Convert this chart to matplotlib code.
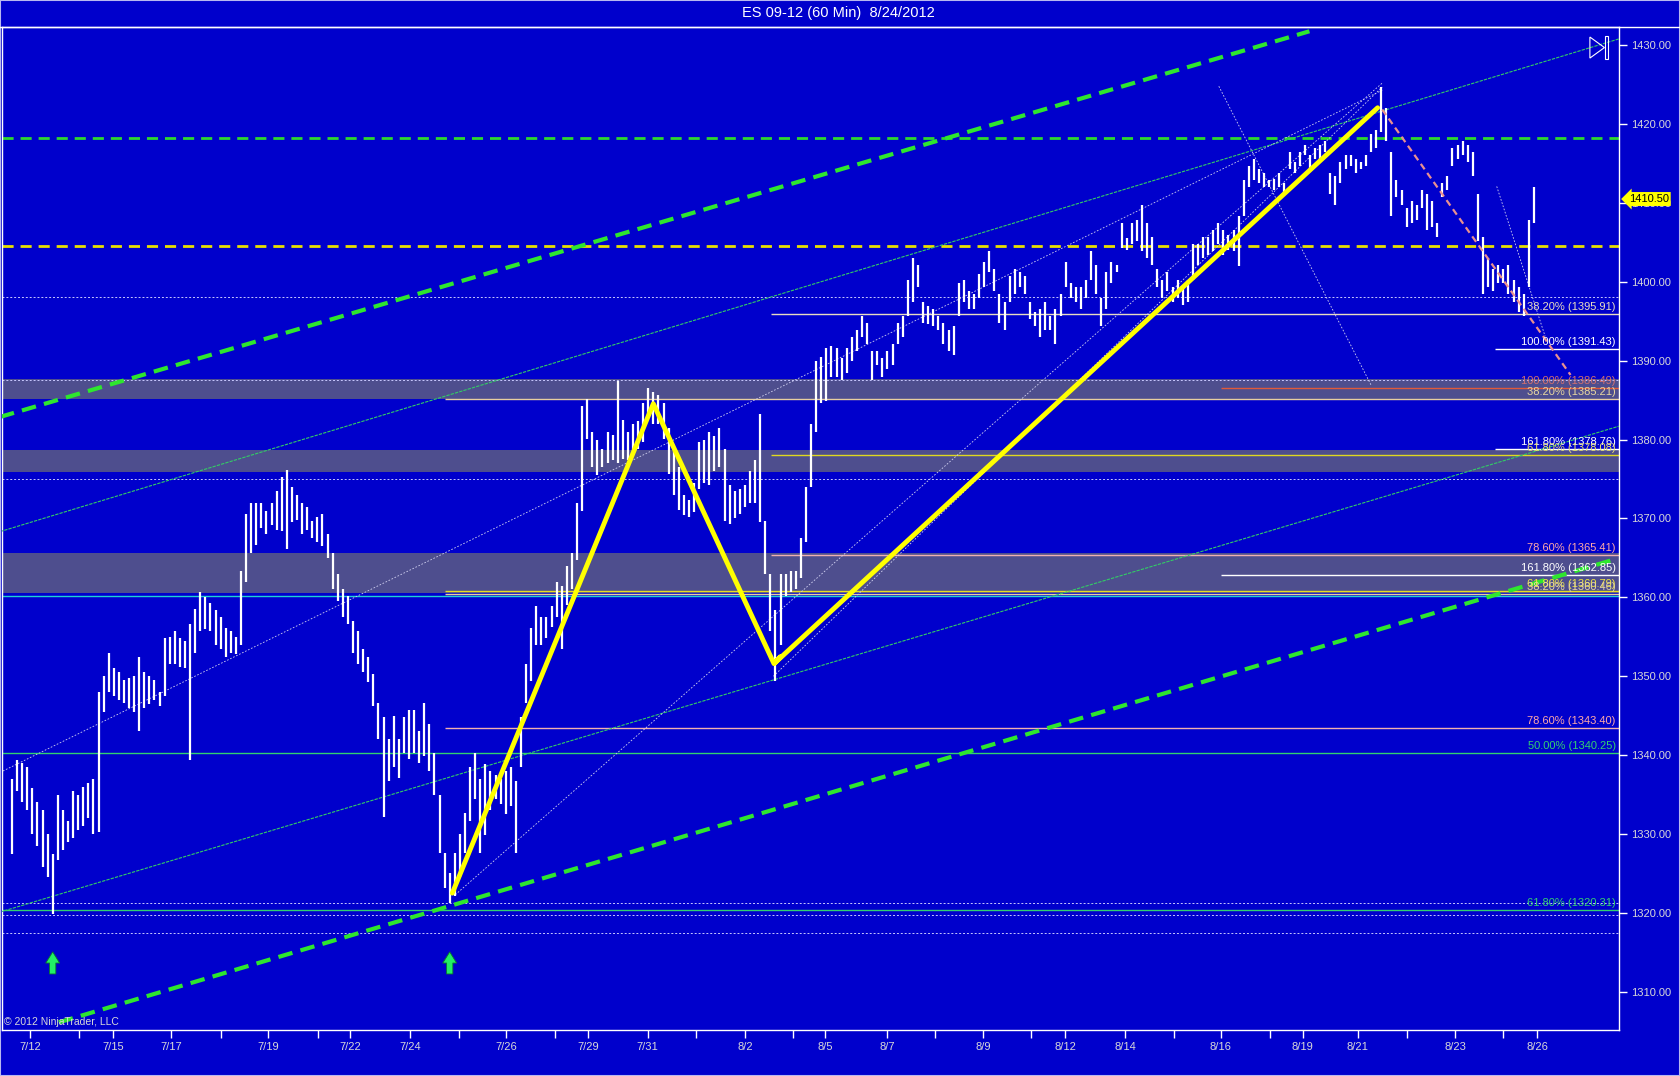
import matplotlib
matplotlib.use('Agg')
import matplotlib.pyplot as plt
from matplotlib.patches import Polygon, Rectangle
from matplotlib.transforms import blended_transform_factory

plt.rcParams['font.family'] = ['Liberation Sans', 'DejaVu Sans']

# ES 09-12, one bar every ~2.4 trading hours, 12 Jul - 24 Aug 2012
bar_high = [
    1337.0, 1339.4, 1339.0, 1338.5, 1335.8, 1334.0, 1333.1, 1330.0, 1327.5, 1334.9,
    1333.0, 1331.7, 1335.5, 1335.0, 1336.0, 1336.5, 1337.0, 1348.0, 1350.0, 1353.0,
    1351.0, 1350.5, 1349.5, 1349.8, 1350.0, 1352.5, 1350.5, 1350.0, 1349.5, 1348.0,
    1354.8, 1355.0, 1355.7, 1354.8, 1354.5, 1356.6, 1358.5, 1360.7, 1360.0, 1359.3,
    1358.4, 1357.5, 1356.1, 1355.7, 1355.0, 1363.4, 1370.6, 1372.0, 1372.0, 1372.0,
    1371.0, 1372.0, 1373.5, 1375.2, 1376.1, 1374.0, 1373.0, 1372.0, 1371.5, 1369.7,
    1370.2, 1370.6, 1368.0, 1365.6, 1363.0, 1361.1, 1360.2, 1357.0, 1355.7, 1353.5,
    1352.5, 1350.3, 1346.6, 1344.8, 1342.1, 1345.0, 1342.1, 1344.8, 1345.7, 1345.7,
    1343.0, 1346.6, 1344.0, 1340.3, 1334.9, 1327.6, 1325.0, 1327.6, 1330.0, 1332.6,
    1338.5, 1340.3, 1337.0, 1338.9, 1338.0, 1337.5, 1337.0, 1338.0, 1338.5, 1336.7,
    1344.8, 1351.6, 1356.1, 1358.9, 1357.5, 1357.5, 1358.9, 1362.0, 1361.5, 1364.0,
    1365.6, 1372.0, 1384.2, 1385.1, 1381.0, 1380.0, 1378.8, 1381.0, 1380.6, 1387.4,
    1382.5, 1381.0, 1382.0, 1382.3, 1384.7, 1386.5, 1386.0, 1385.6, 1384.7, 1381.5,
    1378.5, 1376.5, 1373.0, 1372.4, 1374.5, 1379.7, 1380.0, 1381.0, 1380.5, 1381.5,
    1378.8, 1374.2, 1373.5, 1373.8, 1374.2, 1376.0, 1377.4, 1383.3, 1369.7, 1362.9,
    1358.4, 1362.9, 1363.0, 1363.4, 1363.4, 1367.5, 1374.0, 1382.0, 1390.0, 1390.5,
    1391.6, 1391.9, 1391.6, 1390.3, 1391.6, 1393.0, 1393.9, 1395.7, 1394.8, 1391.2,
    1391.2, 1390.3, 1391.2, 1392.1, 1394.8, 1395.7, 1400.2, 1403.0, 1402.1, 1397.5,
    1397.0, 1396.6, 1395.7, 1394.8, 1393.9, 1394.4, 1399.8, 1400.2, 1398.9, 1398.4,
    1401.0, 1402.5, 1403.9, 1401.6, 1398.4, 1397.5, 1400.7, 1401.6, 1401.2, 1400.7,
    1397.5, 1396.2, 1396.6, 1397.5, 1395.7, 1396.6, 1398.4, 1402.5, 1399.8, 1399.3,
    1399.3, 1400.2, 1403.9, 1402.1, 1398.0, 1401.2, 1402.5, 1402.1, 1407.5, 1405.5,
    1407.5, 1407.9, 1409.7, 1407.5, 1405.7, 1401.6, 1400.2, 1401.2, 1399.3, 1400.2,
    1399.3, 1400.2, 1404.8, 1404.8, 1405.7, 1405.7, 1406.6, 1407.5, 1406.6, 1406.0,
    1406.6, 1408.4, 1412.9, 1414.7, 1415.6, 1414.3, 1413.8, 1412.9, 1413.0, 1413.8,
    1412.5, 1416.5, 1415.2, 1416.5, 1417.4, 1416.1, 1417.0, 1417.4, 1417.9, 1413.8,
    1413.4, 1415.2, 1416.1, 1416.1, 1415.6, 1415.2, 1416.1, 1418.8, 1419.3, 1424.7,
    1422.0, 1416.5, 1412.9, 1411.6, 1409.3, 1410.2, 1409.7, 1411.6, 1411.1, 1410.2,
    1407.5, 1412.5, 1413.4, 1417.0, 1417.4, 1417.9, 1417.4, 1416.5, 1411.1, 1405.7,
    1403.0, 1401.6, 1402.1, 1401.6, 1402.1, 1400.2, 1399.3, 1398.4, 1407.9, 1412.0,
]
bar_low = [
    1327.5, 1335.5, 1334.0, 1333.0, 1330.0, 1328.5, 1325.8, 1324.5, 1319.9, 1326.7,
    1328.0, 1329.0, 1329.5, 1330.5, 1331.0, 1332.0, 1330.0, 1330.3, 1345.5, 1348.0,
    1347.5, 1347.0, 1346.6, 1346.0, 1345.5, 1343.0, 1346.0, 1346.5, 1347.0, 1346.2,
    1347.5, 1351.5, 1351.6, 1351.2, 1351.0, 1339.4, 1353.0, 1355.7, 1356.0, 1355.7,
    1353.9, 1353.5, 1352.5, 1353.0, 1352.8, 1353.9, 1362.0, 1365.6, 1366.6, 1368.8,
    1368.0, 1369.2, 1368.5, 1368.4, 1366.1, 1369.5, 1369.8, 1368.0, 1368.5, 1367.5,
    1367.0, 1366.5, 1365.0, 1361.1, 1359.5, 1357.5, 1356.6, 1353.0, 1351.6, 1350.5,
    1349.3, 1346.2, 1342.1, 1332.2, 1336.7, 1338.5, 1337.1, 1340.3, 1339.5, 1340.3,
    1339.0, 1339.9, 1338.0, 1334.9, 1327.6, 1323.1, 1321.3, 1322.2, 1324.5, 1327.6,
    1331.7, 1334.4, 1327.6, 1329.9, 1333.0, 1334.4, 1333.8, 1332.5, 1333.5, 1327.6,
    1338.5, 1346.6, 1349.4, 1353.9, 1354.0, 1354.8, 1356.2, 1357.5, 1353.5, 1359.0,
    1361.1, 1364.7, 1371.0, 1380.1, 1376.5, 1375.5, 1376.5, 1377.0, 1377.4, 1377.0,
    1377.5, 1377.4, 1378.5, 1378.8, 1379.7, 1382.8, 1382.0, 1382.0, 1380.1, 1375.6,
    1373.0, 1371.1, 1370.5, 1370.2, 1370.8, 1373.8, 1374.5, 1374.2, 1376.0, 1376.5,
    1369.7, 1369.3, 1370.0, 1370.6, 1371.5, 1372.0, 1372.0, 1369.5, 1362.9, 1355.7,
    1349.4, 1353.9, 1360.2, 1360.7, 1361.1, 1362.5, 1367.0, 1374.0, 1381.0, 1384.7,
    1384.9, 1388.0, 1388.0, 1387.6, 1388.5, 1390.0, 1391.2, 1393.0, 1392.1, 1387.6,
    1389.4, 1388.0, 1388.9, 1389.4, 1392.1, 1393.0, 1395.7, 1397.5, 1399.3, 1394.8,
    1394.6, 1394.4, 1393.9, 1392.1, 1391.2, 1390.7, 1395.7, 1397.5, 1396.6, 1396.6,
    1398.0, 1399.3, 1401.2, 1398.9, 1394.8, 1393.9, 1397.5, 1398.4, 1399.3, 1398.4,
    1395.3, 1394.4, 1393.0, 1393.9, 1393.9, 1392.1, 1395.7, 1399.3, 1398.0, 1397.5,
    1396.6, 1398.0, 1400.2, 1398.4, 1394.4, 1396.5, 1399.8, 1401.2, 1404.3, 1404.0,
    1404.8, 1405.2, 1403.9, 1403.0, 1402.1, 1399.3, 1398.0, 1398.9, 1397.5, 1398.0,
    1397.1, 1397.5, 1400.2, 1402.1, 1403.0, 1403.4, 1403.9, 1404.8, 1403.4, 1404.0,
    1403.9, 1402.0, 1408.4, 1412.0, 1412.9, 1412.5, 1412.0, 1412.0, 1411.6, 1412.0,
    1411.1, 1414.3, 1413.8, 1414.7, 1416.1, 1414.3, 1415.6, 1415.6, 1416.5, 1411.1,
    1409.7, 1412.5, 1414.3, 1414.7, 1413.8, 1414.3, 1414.7, 1416.5, 1417.0, 1419.0,
    1417.9, 1408.4, 1410.7, 1409.7, 1407.0, 1407.5, 1407.9, 1409.3, 1406.6, 1407.0,
    1405.7, 1410.7, 1411.6, 1414.7, 1415.6, 1416.1, 1415.2, 1413.4, 1405.2, 1398.4,
    1399.3, 1398.9, 1399.8, 1399.8, 1398.4, 1397.5, 1396.2, 1395.7, 1399.3, 1407.5,
]
last_price = 1410.50

# session dates and the bar each one starts on
date_names = ['7/12', '7/13', '7/15', '7/17', '7/18', '7/19', '7/20', '7/22', '7/24', '7/25',
              '7/26', '7/27', '7/29', '7/31', '8/1', '8/2', '8/3', '8/5', '8/7', '8/8',
              '8/9', '8/10', '8/12', '8/14', '8/15', '8/16', '8/17', '8/19', '8/21', '8/22',
              '8/23', '8/24', '8/26']
date_bars = [3.5, 13.2, 19.8, 31.2, 41.1, 50.3, 60.1, 66.4, 78.2, 87.8,
             97.1, 106.7, 113.2, 124.9, 134.4, 144.0, 153.4, 159.7, 171.9, 181.3,
             190.8, 200.2, 206.9, 218.7, 228.3, 237.5, 247.2, 253.6, 264.4, 274.1,
             283.5, 292.9, 299.6]
date_labeled = ['7/12', '7/15', '7/17', '7/19', '7/22', '7/24', '7/26', '7/29', '7/31', '8/2',
                '8/5', '8/7', '8/9', '8/12', '8/14', '8/16', '8/19', '8/21', '8/23', '8/26']

# zones (low, high)
zones = [(1385.2, 1387.7), (1375.9, 1378.7), (1360.5, 1365.6)]

# fibonacci levels: label, price, first bar, line colour, text colour
fib_levels = [
    ('38.20%', 1395.91, 149.2, '#E8DCC0', '#E8DCC0'),
    ('100.00%', 1391.43, 291.3, '#FFFFFF', '#FFFFFF'),
    ('100.00%', 1386.49, 237.6, '#E05A3A', '#D07070'),
    ('38.20%', 1385.21, 85.0, '#E8CFA0', '#E8D8A0'),
    ('161.80%', 1378.76, 291.3, '#FFFFFF', '#FFFFFF'),
    ('61.80%', 1378.08, 149.2, '#E0D820', '#E8E070'),
    ('78.60%', 1365.41, 149.2, '#F0B0B0', '#FFA8A8'),
    ('161.80%', 1362.85, 237.6, '#FFFFFF', '#FFFFFF'),
    ('61.80%', 1360.79, 85.0, '#E8E020', '#F0E840'),
    ('38.20%', 1360.46, 85.0, '#E8CFA0', '#E8D8A0'),
    ('78.60%', 1343.40, 85.0, '#F0B0B0', '#FFA8A8'),
    ('50.00%', 1340.25, -2.0, '#33D070', '#33D070'),
    ('61.80%', 1320.31, -2.0, '#33D070', '#33D070'),
]
dotted_levels = [1398.1, 1387.5, 1375.0, 1321.3, 1319.7, 1317.4]
cyan_level = 1360.2
green_dash_level = 1418.3
yellow_dash_level = 1404.5

# drawing tools: (bar, price) end points
channel_upper = [(-2.36, 1382.87), (254.9, 1431.77)]
channel_lower = [(9.2, 1306.12), (315.5, 1364.94)]
thin_green_lines = [[(-2.36, 1368.33), (315.7, 1430.8)],
                    [(-2.36, 1320.1), (315.7, 1381.7)]]
thin_white_lines = [[(-2.36, 1337.8), (269.2, 1424.3)],
                    [(87.1, 1322.3), (269.2, 1425.2)],
                    [(149.6, 1350.0), (269.2, 1424.7)],
                    [(237.1, 1424.8), (267.1, 1386.8)],
                    [(291.7, 1412.1), (301.2, 1393.1)]]
pink_line = [(269.2, 1421.85), (306.2, 1388.2)]
zigzag_bars = [86.5, 126.0, 149.7, 151.0, 149.9, 268.3]
zigzag_prices = [1322.5, 1384.55, 1351.6, 1352.5, 1351.7, 1422.07]
signal_bars = [8, 86]

BG = '#0000CC'
ZONE = '#4E4E8E'
GRID_TXT = '#D8D8D8'

fig = plt.figure(figsize=(16.8, 10.76), dpi=100, facecolor=BG)
ax = fig.add_axes([2 / 1680, 1 - 1030 / 1076, 1617 / 1680, 1003 / 1076])
ax.set_facecolor(BG)
x_min, x_max = -1.96, 315.72
ax.set_xlim(x_min, x_max)
ax.set_ylim(1305.15, 1432.31)

for lo, hi in zones:
    ax.axhspan(lo, hi, color=ZONE, lw=0, zorder=1)

for lvl in dotted_levels:
    ax.axhline(lvl, color='#C8C8FF', lw=0.7, ls=(0, (2, 2)), zorder=2)
ax.axhline(cyan_level, color='#22D0D0', lw=1.0, zorder=2)
ax.axhline(green_dash_level, color='#2ED82E', lw=2.0, ls=(0, (4, 2.5)), zorder=2)
ax.axhline(yellow_dash_level, color='#E8E000', lw=2.0, ls=(0, (4, 2.5)), zorder=2)

lbl_tr = blended_transform_factory(ax.transAxes, ax.transData)
for name, price, start, lc, tc in fib_levels:
    ax.hlines(price, start, x_max, color=lc, lw=1.0, zorder=2)
    ax.text(0.998, price + 0.25, f'{name} ({price:.2f})', transform=lbl_tr,
            ha='right', va='bottom', fontsize=8, color=tc, zorder=7)

for seg in thin_green_lines:
    ax.plot([p[0] for p in seg], [p[1] for p in seg], color='#33CC66', lw=0.8,
            ls=(0, (3, 1)), zorder=3)
for seg in thin_white_lines:
    ax.plot([p[0] for p in seg], [p[1] for p in seg], color='#D0D0F0', lw=0.6,
            ls=(0, (2, 2)), zorder=3)

# price bars
ax.vlines(range(len(bar_high)), bar_low, bar_high, color='white', lw=1.6, zorder=4)

for seg in (channel_upper, channel_lower):
    ax.plot([p[0] for p in seg], [p[1] for p in seg], color='#2EE62E', lw=3.0,
            ls=(0, (3.5, 2)), zorder=5)
ax.plot([p[0] for p in pink_line], [p[1] for p in pink_line], color='#E89090', lw=1.6,
        ls=(0, (3, 2)), zorder=5)
ax.plot(zigzag_bars, zigzag_prices, color='#FFFF00', lw=3.5, solid_joinstyle='round',
        solid_capstyle='round', zorder=6)

for b in signal_bars:
    ax.annotate('', xy=(b, 1315.4), xytext=(b, 1311.9),
                arrowprops=dict(arrowstyle='simple,head_width=1.0,head_length=0.8,tail_width=0.45',
                                fc='#22EE66', ec='#0A7A2A', lw=0.6), zorder=6)

# axes styling
ax.yaxis.tick_right()
ax.set_yticks(range(1310, 1431, 10))
ax.set_yticklabels([f'{v:.2f}' for v in range(1310, 1431, 10)])
ax.set_xticks(date_bars)
ax.set_xticklabels([d if d in date_labeled else '' for d in date_names])
ax.tick_params(axis='both', colors='white', labelcolor=GRID_TXT, labelsize=8,
               direction='out', length=6, width=1)
ax.tick_params(axis='x', pad=3)
ax.tick_params(axis='y', pad=3)
for sp in ax.spines.values():
    sp.set_color('white')
    sp.set_linewidth(1)

# last price marker
ax.text(1.006, last_price, f'{last_price:.2f}', transform=lbl_tr, ha='left', va='center',
        fontsize=8, color='black', zorder=8, clip_on=False,
        bbox=dict(boxstyle='larrow,pad=0.18', fc='#FFFF00', ec='none'))

# scroll icon at top right
ax.add_patch(Polygon([(0.982, 0.990), (0.982, 0.969), (0.991, 0.9795)], closed=True,
                     fill=False, ec='white', lw=0.8, transform=ax.transAxes, zorder=8))
ax.add_patch(Rectangle((0.9915, 0.968), 0.0015, 0.023, fill=False, ec='white', lw=0.8,
                       transform=ax.transAxes, zorder=8))

ax.text(0.001, 0.003, '\u00a9 2012 NinjaTrader, LLC', transform=ax.transAxes, ha='left',
        va='bottom', fontsize=7.5, color=GRID_TXT, zorder=8)

fig.text(838 / 1680, 1 - 13 / 1076, 'ES 09-12 (60 Min)  8/24/2012', ha='center', va='center',
         fontsize=10.5, color='white')
fig.add_artist(plt.Line2D([0, 1], [1 - 27 / 1076] * 2, color='white', lw=1))
fig.add_artist(Rectangle((0, 0), 1, 1, transform=fig.transFigure, fill=False,
                         ec='#B8B8F0', lw=1.5))

fig.savefig('out.png', dpi=100, facecolor=BG)
